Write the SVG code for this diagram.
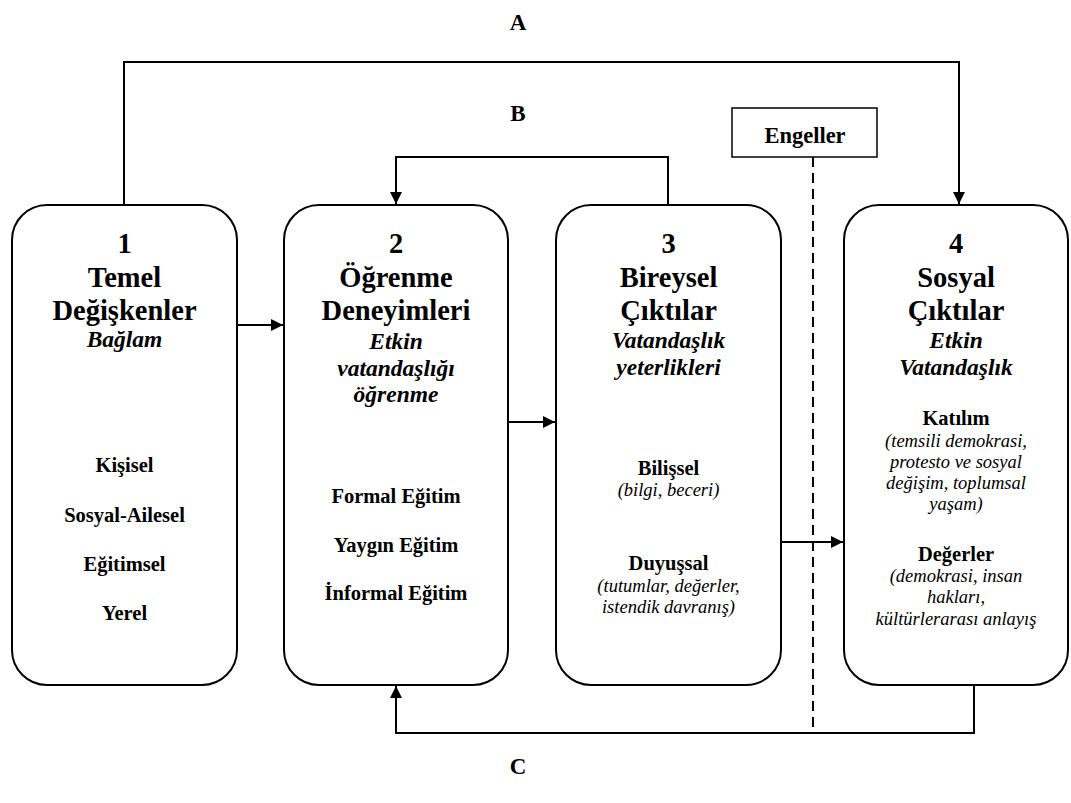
<svg xmlns="http://www.w3.org/2000/svg" width="1071" height="803" viewBox="0 0 1071 803">
<style>
.box{fill:#fff;stroke:#000;stroke-width:2}
.ln{fill:none;stroke:#000;stroke-width:2}
text{font-family:'Liberation Serif','Tinos','DejaVu Serif',serif;fill:#000;text-anchor:middle}
.t{font-size:28.5px;font-weight:bold}
.s{font-size:23.5px;font-weight:bold;font-style:italic}
.i{font-size:20.5px;font-weight:bold}
.p{font-size:18.5px;font-style:italic}
.e{font-size:22.5px;font-weight:bold}
.lbl{font-size:23px;font-weight:bold}
</style>
<defs>
<marker id="ah" viewBox="0 0 12 12" refX="12" refY="6" markerWidth="12" markerHeight="12" markerUnits="userSpaceOnUse" orient="auto">
<path d="M0,0 L12,6 L0,12 Z" fill="#000"/>
</marker>
</defs>
<text class="lbl" x="518" y="30">A</text>
<text class="lbl" x="518" y="121">B</text>
<text class="lbl" x="518" y="774">C</text>
<g id="connectors">
<path class="ln" d="M124,205 V62 H959 V204" marker-end="url(#ah)"/>
<path class="ln" d="M668,205 V157 H396 V204" marker-end="url(#ah)"/>
<path class="ln" d="M974,685 V733 H396 V686" marker-end="url(#ah)"/>
<path class="ln" d="M237,325 H283" marker-end="url(#ah)"/>
<path class="ln" d="M508,422 H555" marker-end="url(#ah)"/>
<path class="ln" d="M781,542 H843" marker-end="url(#ah)"/>
<path class="ln" d="M813,157 V730" stroke-dasharray="10,6"/>
</g>
<g id="engeller">
<rect x="732" y="108" width="145" height="49" fill="#fff" stroke="#000" stroke-width="1.5"/>
<text class="e" x="805" y="143">Engeller</text>
</g>
<g id="node1">
<rect class="box" x="12" y="205" width="225" height="480" rx="35" ry="35"/>
<text class="t" x="124.5" y="253">1</text>
<text class="t" x="124.5" y="287">Temel</text>
<text class="t" x="124.5" y="320">Değişkenler</text>
<text class="s" x="124.5" y="347">Bağlam</text>
<text class="i" x="124.5" y="472">Kişisel</text>
<text class="i" x="124.5" y="522">Sosyal-Ailesel</text>
<text class="i" x="124.5" y="571">Eğitimsel</text>
<text class="i" x="124.5" y="620">Yerel</text>
</g>
<g id="node2">
<rect class="box" x="284" y="205" width="224" height="480" rx="35" ry="35"/>
<text class="t" x="396" y="253">2</text>
<text class="t" x="396" y="287">Öğrenme</text>
<text class="t" x="396" y="320">Deneyimleri</text>
<text class="s" x="396" y="349">Etkin</text>
<text class="s" x="396" y="376">vatandaşlığı</text>
<text class="s" x="396" y="402">öğrenme</text>
<text class="i" x="396" y="503">Formal Eğitim</text>
<text class="i" x="396" y="552">Yaygın Eğitim</text>
<text class="i" x="396" y="600">İnformal Eğitim</text>
</g>
<g id="node3">
<rect class="box" x="556" y="205" width="225" height="480" rx="35" ry="35"/>
<text class="t" x="668.5" y="253">3</text>
<text class="t" x="668.5" y="287">Bireysel</text>
<text class="t" x="668.5" y="320">Çıktılar</text>
<text class="s" x="668.5" y="348">Vatandaşlık</text>
<text class="s" x="668.5" y="375">yeterlikleri</text>
<text class="i" x="668.5" y="475">Bilişsel</text>
<text class="p" x="668.5" y="496">(bilgi, beceri)</text>
<text class="i" x="668.5" y="570">Duyuşsal</text>
<text class="p" x="668.5" y="592">(tutumlar, değerler,</text>
<text class="p" x="668.5" y="613">istendik davranış)</text>
</g>
<g id="node4">
<rect class="box" x="844" y="205" width="224" height="480" rx="35" ry="35"/>
<text class="t" x="956" y="253">4</text>
<text class="t" x="956" y="287">Sosyal</text>
<text class="t" x="956" y="320">Çıktılar</text>
<text class="s" x="956" y="348">Etkin</text>
<text class="s" x="956" y="375">Vatandaşlık</text>
<text class="i" x="956" y="425">Katılım</text>
<text class="p" x="956" y="447">(temsili demokrasi,</text>
<text class="p" x="956" y="468">protesto ve sosyal</text>
<text class="p" x="956" y="489">değişim, toplumsal</text>
<text class="p" x="956" y="510">yaşam)</text>
<text class="i" x="956" y="561">Değerler</text>
<text class="p" x="956" y="582">(demokrasi, insan</text>
<text class="p" x="956" y="603">hakları,</text>
<text class="p" x="956" y="625">kültürlerarası anlayış</text>
</g>
</svg>
